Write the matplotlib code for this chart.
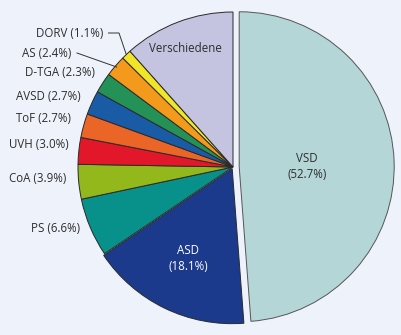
import matplotlib
matplotlib.use("Agg")
import matplotlib.pyplot as plt
import numpy as np

categories = ["VSD", "ASD", "PS", "CoA", "UVH", "ToF", "AVSD", "D-TGA", "AS", "DORV", "Verschiedene"]
values = [52.7, 18.1, 6.6, 3.9, 3.0, 2.7, 2.7, 2.3, 2.4, 1.1, 12.5]
pct_labels = ["52.7%", "18.1%", "6.6%", "3.9%", "3.0%", "2.7%", "2.7%", "2.3%", "2.4%", "1.1%", None]
colors = ["#b5d6d6", "#1c3a8c", "#08908a", "#93b81b", "#e2182a", "#eb6527",
          "#1a5ba6", "#249257", "#f39a1c", "#f0e528", "#c4c3e0"]

BG = "#eef2fa"
W, H = 402, 335
CX, CY, R = 233, 167, 155

fig = plt.figure(figsize=(W / 100, H / 100), dpi=100, facecolor=BG)
ax = fig.add_axes([0, 0, 1, 1])
ax.set_facecolor(BG)

def P(px, py):
    return ((px - CX) / R, (CY - py) / R)

explode = [0.04, 0.012, 0, 0, 0, 0, 0, 0, 0, 0, 0]
edgecols = ["#555555"] + ["#2a2a2a"] * 10
wedges, _ = ax.pie(values, colors=colors, startangle=90, counterclock=False,
                   explode=explode, radius=1.0,
                   wedgeprops=dict(linewidth=0.7))
for w, ec in zip(wedges, edgecols):
    w.set_edgecolor(ec)

ax.set_xlim(-CX / R, (W - CX) / R)
ax.set_ylim(-(H - CY) / R, CY / R)
ax.set_aspect("equal")
ax.axis("off")

font = dict(family=["Open Sans", "DejaVu Sans"], fontsize=8.3, color="#2e2e2e")

def mid(w, r):
    a = np.deg2rad((w.theta1 + w.theta2) / 2)
    cx, cy = w.center
    return cx + r * np.cos(a), cy + r * np.sin(a)

x, y = P(307, 167)
ax.text(x, y, "VSD\n(52.7%)", ha="center", va="center", linespacing=1.3, **font)
x, y = P(188, 259)
ax.text(x, y, "ASD\n(18.1%)", ha="center", va="center", linespacing=1.3,
        **{**font, "color": "white"})
x, y = P(185, 48)
ax.text(x, y, "Verschiedene", ha="center", va="center", **font)

outside = {"PS": (80, 229), "CoA": (66, 179), "UVH": (69, 144), "ToF": (71, 118),
           "AVSD": (81, 96), "D-TGA": (95, 72), "AS": (71, 53), "DORV": (103, 33)}
for i, cat in enumerate(categories):
    if cat in outside:
        px, py = outside[cat]
        x, y = P(px, py)
        ax.text(x, y, f"{cat} ({pct_labels[i]})", ha="right", va="center", **font)

i_dorv = categories.index("DORV")
i_as = categories.index("AS")
ex, ey = mid(wedges[i_dorv], 1.0)
ax.plot([P(108, 33)[0], P(119, 33)[0], ex], [P(108, 33)[1], P(119, 33)[1], ey],
        color="#333333", lw=0.7, solid_capstyle="butt")
ex, ey = mid(wedges[i_as], 0.99)
ax.plot([P(77, 53)[0], ex], [P(77, 53)[1], ey], color="#333333", lw=0.7)

fig.savefig("out.png", dpi=100, facecolor=BG)
